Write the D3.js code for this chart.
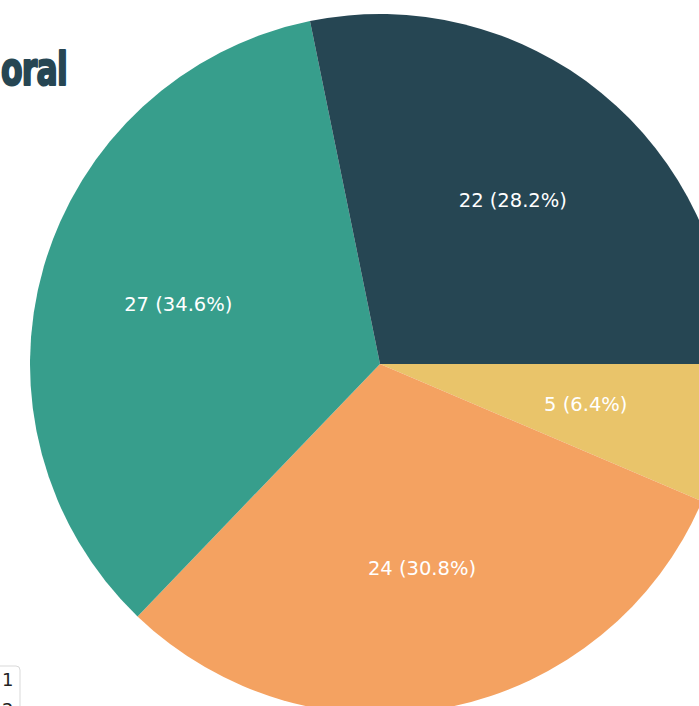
<!DOCTYPE html>
<html>
<head>
<meta charset="utf-8">
<script src="https://cdn.jsdelivr.net/npm/d3@7"></script>
<style>
  html, body { margin: 0; padding: 0; background: #fff; overflow: hidden; }
  svg { display: block; }
</style>
</head>
<body>
<svg id="chart" width="699" height="706"></svg>
<script>
// Category counts, drawn clockwise from 3 o'clock
const categories = ["1", "2", "3", "4"];
const counts = [5, 24, 27, 22];
const sliceColors = ["#e9c46a", "#f4a261", "#379e8c", "#264653"];
const titleText = "oral";

const width = 699, height = 706;
const cx = 380, cy = 364, radius = 350, labelRadius = 210;

const svg = d3.select("#chart");

const data = categories.map((c, i) => ({ category: c, value: counts[i] }));
const total = d3.sum(counts);

const color = d3.scaleOrdinal().domain(categories).range(sliceColors);

const pie = d3.pie()
  .value(d => d.value)
  .sort(null)
  .startAngle(Math.PI / 2)
  .endAngle(Math.PI / 2 + 2 * Math.PI);

const arc = d3.arc().innerRadius(0).outerRadius(radius);
const labelArc = d3.arc().innerRadius(labelRadius).outerRadius(labelRadius);

const g = svg.append("g").attr("transform", `translate(${cx},${cy})`);
const arcs = pie(data);

g.selectAll("path.slice")
  .data(arcs)
  .join("path")
  .attr("class", "slice")
  .attr("d", arc)
  .attr("fill", d => color(d.data.category));

g.selectAll("text.value")
  .data(arcs)
  .join("text")
  .attr("class", "value")
  .attr("transform", d => `translate(${labelArc.centroid(d)})`)
  .attr("text-anchor", "middle")
  .attr("dy", "0.28em")
  .attr("fill", "#fff")
  .style("font-family", "'DejaVu Sans', sans-serif")
  .style("font-size", "19.5px")
  .text(d => `${d.data.value} (${(d.data.value / total * 100).toFixed(1)}%)`);

// Title (condensed heavy lettering)
svg.append("text")
  .attr("transform", "translate(67,85) scale(0.76,1)")
  .attr("text-anchor", "end")
  .attr("fill", "#264653")
  .attr("stroke", "#264653")
  .attr("stroke-width", 2)
  .attr("stroke-linejoin", "round")
  .style("font-family", "'DejaVu Sans Condensed', 'DejaVu Sans', sans-serif")
  .style("font-weight", "bold")
  .style("font-size", "46px")
  .style("letter-spacing", "-1px")
  .text(titleText);

// Legend
const legend = svg.append("g").attr("transform", "translate(-40,666)");
legend.append("rect")
  .attr("x", 0).attr("y", 0)
  .attr("width", 60).attr("height", 130)
  .attr("rx", 4)
  .attr("fill", "#fff")
  .attr("stroke", "#d9d9d9");
const items = legend.selectAll("g.item")
  .data(categories)
  .join("g")
  .attr("class", "item")
  .attr("transform", (d, i) => `translate(0,${13 + i * 30})`);
items.append("rect")
  .attr("x", 10).attr("y", -7)
  .attr("width", 14).attr("height", 14)
  .attr("fill", d => color(d));
items.append("text")
  .attr("x", 42)
  .attr("y", 0)
  .attr("dominant-baseline", "central")
  .attr("fill", "#222")
  .style("font-family", "'DejaVu Sans', sans-serif")
  .style("font-size", "18px")
  .text(d => d);
</script>
</body>
</html>
